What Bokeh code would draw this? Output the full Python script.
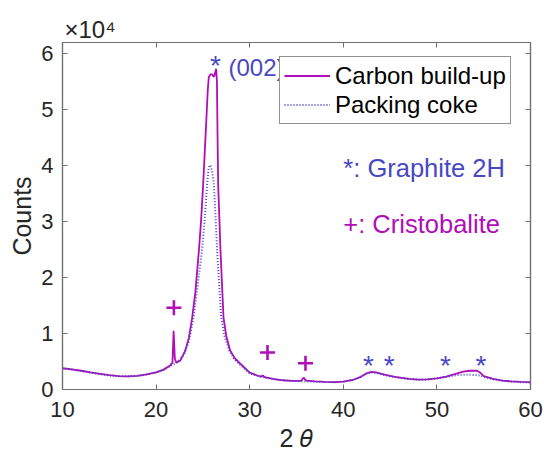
from bokeh.plotting import figure
from bokeh.models import (Range1d, FixedTicker, LinearAxis, Legend, LegendItem,
                          CustomJSTickFormatter)
from bokeh.core.properties import value
from bokeh.embed import file_html
from bokeh.resources import INLINE

# ---- data ----
carbon_tt = [10.0, 11.0, 12.0, 13.0, 14.0, 15.0, 16.0, 17.0, 18.0, 19.0, 20.0, 20.8, 21.5, 21.75,
             21.87, 22.0, 22.15, 22.6, 23.1, 23.5, 23.86, 24.2, 24.57, 24.8, 25.03, 25.2, 25.38,
             25.52, 25.63, 25.8, 26.0, 26.12, 26.22, 26.3, 26.42, 26.5, 26.56, 26.63, 26.88,
             27.2, 27.5, 27.9, 28.4, 29.0, 30.0, 30.8, 31.2, 31.4, 31.6, 32.5, 33.5, 34.5, 35.5,
             35.75, 36.05, 37.0, 38.0, 39.0, 40.0, 41.0, 41.8, 42.5, 43.0, 43.5, 44.5, 45.5,
             47.0, 48.0, 49.0, 50.0, 51.0, 52.0, 52.8, 53.5, 54.3, 54.6, 55.0, 56.0, 57.0, 58.0,
             59.0, 60.0]
carbon_counts = [3800, 3600, 3350, 3050, 2800, 2550, 2400, 2350, 2450, 2700, 3050, 3550, 4300, 4800,
                 10500, 5600, 4800, 5200, 6900, 9200, 12900, 17500, 24800, 30000, 36700, 42500, 48600,
                 53500, 55800, 56300, 56300, 55900, 56000, 56600, 57300, 55000, 46000, 36700, 24800,
                 12900, 9500, 7000, 5600, 4600, 3000, 2500, 2300, 2500, 2200, 1900, 1650, 1550, 1550,
                 2100, 1600, 1450, 1350, 1300, 1400, 1700, 2200, 2900, 3150, 3050, 2600, 2250,
                 1900, 1750, 1800, 2000, 2300, 2800, 3200, 3350, 3350, 3050, 2400, 1900, 1600, 1450,
                 1350, 1300]

coke_tt = [10.0, 11.0, 12.0, 13.0, 14.0, 15.0, 16.0, 17.0, 18.0, 19.0, 20.0, 20.8, 21.5, 22.0,
           22.4, 23.0, 23.5, 24.0, 24.4, 24.9, 25.2, 25.45, 25.6, 25.72, 25.85, 26.0, 26.17,
           26.35, 26.52, 26.95, 27.3, 27.8, 28.4, 29.0, 30.0, 31.0, 32.0, 33.0, 34.0, 35.0,
           36.0, 37.0, 38.0, 39.0, 40.0, 41.0, 41.8, 42.5, 43.0, 43.5, 44.5, 45.5, 47.0, 48.0,
           49.0, 50.0, 51.0, 52.0, 53.0, 54.0, 54.6, 55.0, 56.0, 57.0, 58.0, 59.0, 60.0]
coke_counts = [3750, 3550, 3300, 3000, 2750, 2500, 2380, 2350, 2450, 2700, 3050, 3500, 4200, 4600,
               5100, 6300, 8600, 12900, 18000, 24800, 30500, 36700, 39300, 40100, 39900, 38800, 36700,
               31000, 24800, 12900, 9600, 7000, 5300, 4400, 2900, 2350, 2000, 1750, 1600, 1500,
               1450, 1400, 1350, 1300, 1400, 1700, 2200, 2900, 3050, 2950, 2550, 2200, 1900, 1750,
               1800, 2000, 2250, 2550, 2650, 2600, 2500, 2250, 1850, 1550, 1400, 1300, 1250]

x_ticks = [10, 20, 30, 40, 50, 60]
y_ticks = [0, 10000, 20000, 30000, 40000, 50000, 60000]
y_tick_labels = ["0", "1", "2", "3", "4", "5", "6"]

graphite_tt = [26.35, 42.7, 44.9, 50.9, 54.7]
graphite_counts = [58400, 4800, 4800, 4800, 4800]
cristobalite_tt = [21.9, 31.9, 35.96]
cristobalite_counts = [14600, 6600, 4700]

MAGENTA = "#B10DB8"
BLUE = "#4848C4"
AX = "#707070"
FONT = "Liberation Sans"

p = figure(width=544, height=456, output_backend="svg", toolbar_location=None,
           x_range=Range1d(10, 60), y_range=Range1d(0, 62000), title="×10⁴",
           min_border_left=62, min_border_right=14, min_border_top=42, min_border_bottom=67)
p.grid.visible = False
p.outline_line_color = AX
p.outline_line_width = 1.2
p.background_fill_color = "white"
p.border_fill_color = "white"

p.title.align = "left"
p.title.offset = 2
p.title.text_font = FONT
p.title.text_font_size = "24px"
p.title.text_font_style = "normal"
p.title.text_color = "#262626"
p.title.standoff = 0

xa = p.below[0]
ya = p.left[0]
for ax in (xa, ya):
    ax.axis_line_color = AX
    ax.axis_line_width = 1.2
    ax.major_tick_line_color = AX
    ax.major_tick_in = 5
    ax.major_tick_out = 0
    ax.minor_tick_line_color = None
    ax.major_label_text_font = FONT
    ax.major_label_text_font_size = "22px"
    ax.major_label_text_color = "#262626"
    ax.axis_label_text_font = FONT
    ax.axis_label_text_font_size = "25px"
    ax.axis_label_text_font_style = "normal"
    ax.axis_label_text_color = "#262626"
xa.ticker = FixedTicker(ticks=x_ticks)
ya.ticker = FixedTicker(ticks=y_ticks)
ya.major_label_overrides = {t: l for t, l in zip(y_ticks, y_tick_labels)}
xa.major_label_standoff = 12
ya.major_label_standoff = 9
ya.axis_label = "Counts"
ya.axis_label_standoff = 2
xa.axis_label = "2 \U0001D703"
xa.axis_label_standoff = 4

for side, tk in (("above", x_ticks), ("right", y_ticks)):
    ax = LinearAxis(ticker=FixedTicker(ticks=tk),
                    formatter=CustomJSTickFormatter(code="return ''"),
                    major_label_standoff=0, axis_line_color=AX, axis_line_width=1.2,
                    major_tick_line_color=AX, major_tick_in=5, major_tick_out=0,
                    minor_tick_line_color=None)
    p.add_layout(ax, side)

r1 = p.line(carbon_tt, carbon_counts, line_color=MAGENTA, line_width=1.8)
r2 = p.line(coke_tt, coke_counts, line_color=BLUE, line_width=2, line_dash="1 2")

p.text(x=graphite_tt, y=graphite_counts, text=["*"] * len(graphite_tt),
       text_font=value(FONT), text_font_size="28px", text_align="center",
       text_baseline="middle", text_color=BLUE, y_offset=3)
p.scatter(x=cristobalite_tt, y=cristobalite_counts, marker="cross", size=15,
          line_color=MAGENTA, line_width=2.6)

p.text(x=[27.73], y=[57500], text=["(002)"], text_font=value(FONT), text_font_size="24px",
       text_align="left", text_baseline="middle", text_color=BLUE)
p.text(x=[40.0], y=[39600], text=["*: Graphite 2H"], text_font=value(FONT),
       text_font_size="25.5px", text_align="left", text_baseline="middle", text_color=BLUE)
p.text(x=[40.0], y=[29600], text=["+: Cristobalite"], text_font=value(FONT),
       text_font_size="25.5px", text_align="left", text_baseline="middle", text_color=MAGENTA)

legend = Legend(items=[LegendItem(label="Carbon build-up", renderers=[r1]),
                       LegendItem(label="Packing coke", renderers=[r2])],
                location=(217, 265), label_text_font=FONT, label_text_font_size="24px",
                label_text_color="#000000", glyph_width=46, glyph_height=29, label_height=29,
                spacing=0, padding=4, margin=0, label_standoff=5,
                border_line_color="#262626", border_line_width=1.2,
                background_fill_color="white", background_fill_alpha=1.0)
p.add_layout(legend)

open("out.html", "w").write(file_html(p, INLINE))
